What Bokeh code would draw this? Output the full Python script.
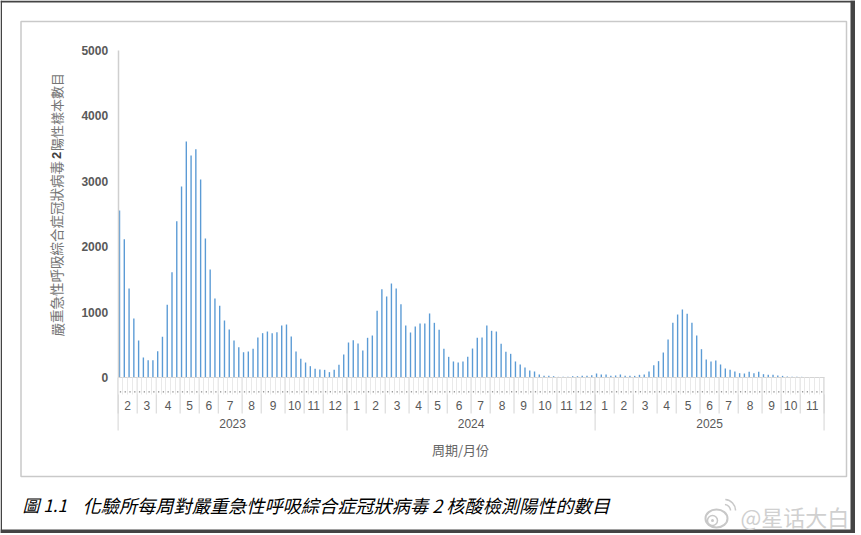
from bokeh.plotting import figure
from bokeh.embed import file_html
from bokeh.resources import INLINE
from bokeh.core.properties import value
from bokeh.models import LinearAxis, FixedTicker, Range1d

# ---- data ----
values_2023 = [2554, 2115, 1361, 902, 566, 306, 265, 265, 403, 622, 1111, 1610, 2390, 2920, 3609, 3395,
               3491, 3028, 2125, 1651, 1208, 1096, 872, 734, 566, 464, 387, 398, 438, 612, 678, 703,
               678, 693, 795, 810, 627, 398, 285, 229, 173, 133, 122, 117, 82, 117, 194, 352]
values_2024 = [535, 571, 520, 413, 607, 642, 1019, 1351, 1239, 1437, 1361, 1121, 795, 688, 780, 826,
               826, 979, 836, 729, 438, 316, 245, 229, 245, 316, 443, 607, 612, 795, 714, 703,
               515, 392, 362, 245, 199, 153, 107, 92, 46, 25, 25, 20, 10, 10, 10, 20, 20, 25, 25, 36]
values_2025 = [61, 46, 46, 25, 31, 46, 25, 25, 25, 41, 46, 92, 189, 250, 382, 581, 836, 963, 1040, 973,
               836, 642, 433, 275, 245, 260, 199, 138, 117, 92, 66, 61, 87, 66, 87, 51, 41, 41, 31,
               25, 15, 10, 10, 10, 5, 5, 5, 3]
years = ["2023", "2024", "2025"]
months_2023 = ["2", "3", "4", "5", "6", "7", "8", "9", "10", "11", "12"]
weeks_2023 = [4, 4, 5, 4, 4, 5, 4, 5, 4, 4, 5]
months_2024 = ["1", "2", "3", "4", "5", "6", "7", "8", "9", "10", "11", "12"]
weeks_2024 = [4, 4, 5, 4, 4, 5, 4, 5, 4, 5, 4, 4]
months_2025 = ["1", "2", "3", "4", "5", "6", "7", "8", "9", "10", "11"]
weeks_2025 = [4, 4, 5, 4, 5, 4, 4, 5, 4, 4, 5]
y_ticks = [0, 1000, 2000, 3000, 4000, 5000]
y_title_a = "嚴重急性呼吸綜合症冠狀病毒"
y_title_b = "2"
y_title_c = "陽性樣本數目"
x_title = "周期/月份"
caption_a = "圖 1.1"
caption_b = "化驗所每周對嚴重急性呼吸綜合症冠狀病毒 2 核酸檢測陽性的數目"
watermark = "@星话大白"

# ---- layout (page pixels) ----
W, H = 855, 533
X0, DX = 117.6, 4.77
Y0, KY = 377.0, 0.0654
def dx(px): return (px - X0) / DX
def dy(py): return (Y0 - py) / KY

GREY = "#595959"
AX = "#d4d4d4"
SANS = value("Liberation Sans")
CJK = value("Noto Sans CJK TC")

p = figure(width=W, height=H, output_backend="svg", toolbar_location=None,
           x_range=Range1d(dx(0), dx(W)), y_range=Range1d(dy(H), dy(0)),
           x_axis_location=None, y_axis_location=None, min_border=0)
p.outline_line_color = None
p.grid.visible = False
p.background_fill_color = "white"
p.border_fill_color = "white"

# page edge and chart frame
p.quad(left=[dx(0), dx(850), dx(0), dx(0)], right=[dx(1.5), dx(855), dx(855), dx(855)],
       bottom=[dy(533), dy(533), dy(2), dy(533)], top=[dy(0), dy(0), dy(0), dy(529)],
       fill_color="#444444", line_color=None)
p.quad(left=[dx(20.5)], right=[dx(846)], bottom=[dy(476)], top=[dy(21)],
       fill_color="white", line_color="#c9c9c9", line_width=1.5)

# bars
vals = values_2023 + values_2024 + values_2025
xs = [i + 0.3 for i in range(len(vals))]
p.vbar(x=xs, top=vals, bottom=0, width=0.29, fill_color="#5b9bd5", line_color=None)

# y axis
ya = LinearAxis(ticker=FixedTicker(ticks=y_ticks), fixed_location=0, bounds=(0, 5000))
ya.axis_line_color = "#cfcfcf"
ya.axis_line_width = 1.5
ya.major_tick_line_color = None
ya.minor_tick_line_color = None
ya.major_label_text_font = "Liberation Sans"
ya.major_label_text_font_style = "bold"
ya.major_label_text_font_size = "12px"
ya.major_label_text_color = GREY
ya.major_label_standoff = 4
p.add_layout(ya, "left")

# x axis with one tick per week
week_edges = list(range(len(vals) + 1))
xa = LinearAxis(ticker=FixedTicker(ticks=week_edges), fixed_location=0, bounds=(0, len(vals)))
xa.axis_line_color = AX
xa.axis_line_width = 1
xa.major_tick_line_color = "#e9e9e9"
xa.major_tick_line_width = 1
xa.major_tick_in = 0
xa.major_tick_out = 17
xa.minor_tick_line_color = None
xa.major_label_text_font_size = "0px"
xa.major_label_text_color = None
p.add_layout(xa, "below")

# dotted week-label row
p.scatter(x=[i + 0.5 for i in range(len(vals))], y=dy(391.3), marker="square", size=1.3,
          fill_color="#8a8a8a", line_color=None)

# month / year separators and labels
groups = [(years[0], months_2023, weeks_2023), (years[1], months_2024, weeks_2024), (years[2], months_2025, weeks_2025)]
sep_x, lab_x, lab_t, year_x, year_t, ysep = [], [], [], [], [], [0]
pos = 0
for yr, ms, ws in groups:
    start = pos
    for m, w in zip(ms, ws):
        lab_x.append(pos + w / 2)
        lab_t.append(m)
        pos += w
        sep_x.append(pos)
    year_x.append((start + pos) / 2)
    year_t.append(yr)
    ysep.append(pos)
p.segment(x0=[0] + sep_x, x1=[0] + sep_x, y0=0, y1=dy(413), line_color=AX, line_width=1)
p.segment(x0=ysep, x1=ysep, y0=0, y1=dy(430), line_color=AX, line_width=1)
p.text(x=lab_x, y=dy(405), text=lab_t, text_font=SANS, text_font_size="12px", text_color=GREY,
       text_align="center", text_baseline="middle")
p.text(x=year_x, y=dy(422.5), text=year_t, text_font=SANS, text_font_size="12px", text_color=GREY,
       text_align="center", text_baseline="middle")
p.text(x=[dx(460)], y=[dy(448.5)], text=[x_title], text_font=CJK, text_font_size="13px", text_color="#666666",
       text_align="center", text_baseline="middle")

# y title (three runs because of the bold digit)
ang = 1.5708
p.text(x=[dx(56)], y=[dy(336)], text=[y_title_a], angle=ang, text_font=CJK, text_font_size="13.5px",
       text_color="#757575", text_align="left", text_baseline="middle")
p.text(x=[dx(56)], y=[dy(155)], text=[y_title_b], angle=ang, text_font=SANS, text_font_style="bold",
       text_font_size="13px", text_color="#404040", text_align="center", text_baseline="middle")
p.text(x=[dx(56)], y=[dy(150.5)], text=[y_title_c], angle=ang, text_font=CJK, text_font_size="13px",
       text_color="#757575", text_align="left", text_baseline="middle")

# caption
p.text(x=[dx(22)], y=[dy(504)], text=[caption_a], text_font=CJK, text_font_style="italic",
       text_font_size="17px", text_color="black", text_align="left", text_baseline="middle")
p.text(x=[dx(82)], y=[dy(504)], text=[caption_b], text_font=CJK, text_font_style="italic",
       text_font_size="18.2px", text_color="black", text_align="left", text_baseline="middle")

# watermark
p.text(x=[dx(740)], y=[dy(515)], text=[watermark], text_font=CJK, text_font_size="22px",
       text_color="#d0d0d0", text_align="left", text_baseline="middle")
p.ellipse(x=[dx(716)], y=[dy(518)], width=[22], height=[18], width_units="screen", height_units="screen",
          fill_color=None, line_color="#c8c8c8", line_width=2)
p.scatter(x=[dx(712)], y=[dy(520)], size=10, marker="circle", fill_color=None, line_color="#c8c8c8", line_width=1.5)
p.scatter(x=[dx(712)], y=[dy(520)], size=3, marker="circle", fill_color="#c8c8c8", line_color=None)
p.arc(x=[dx(724)], y=[dy(510)], radius=[6], radius_units="screen", start_angle=0, end_angle=1.5,
      line_color="#c8c8c8", line_width=1.5)
p.arc(x=[dx(724)], y=[dy(510)], radius=[11], radius_units="screen", start_angle=0, end_angle=1.5,
      line_color="#c8c8c8", line_width=1.5)

html = file_html(p, INLINE)
html = html.replace("<head>", "<head><style>html,body{margin:0;padding:0;overflow:hidden;background:white}</style>", 1)
open("out.html", "w").write(html)
